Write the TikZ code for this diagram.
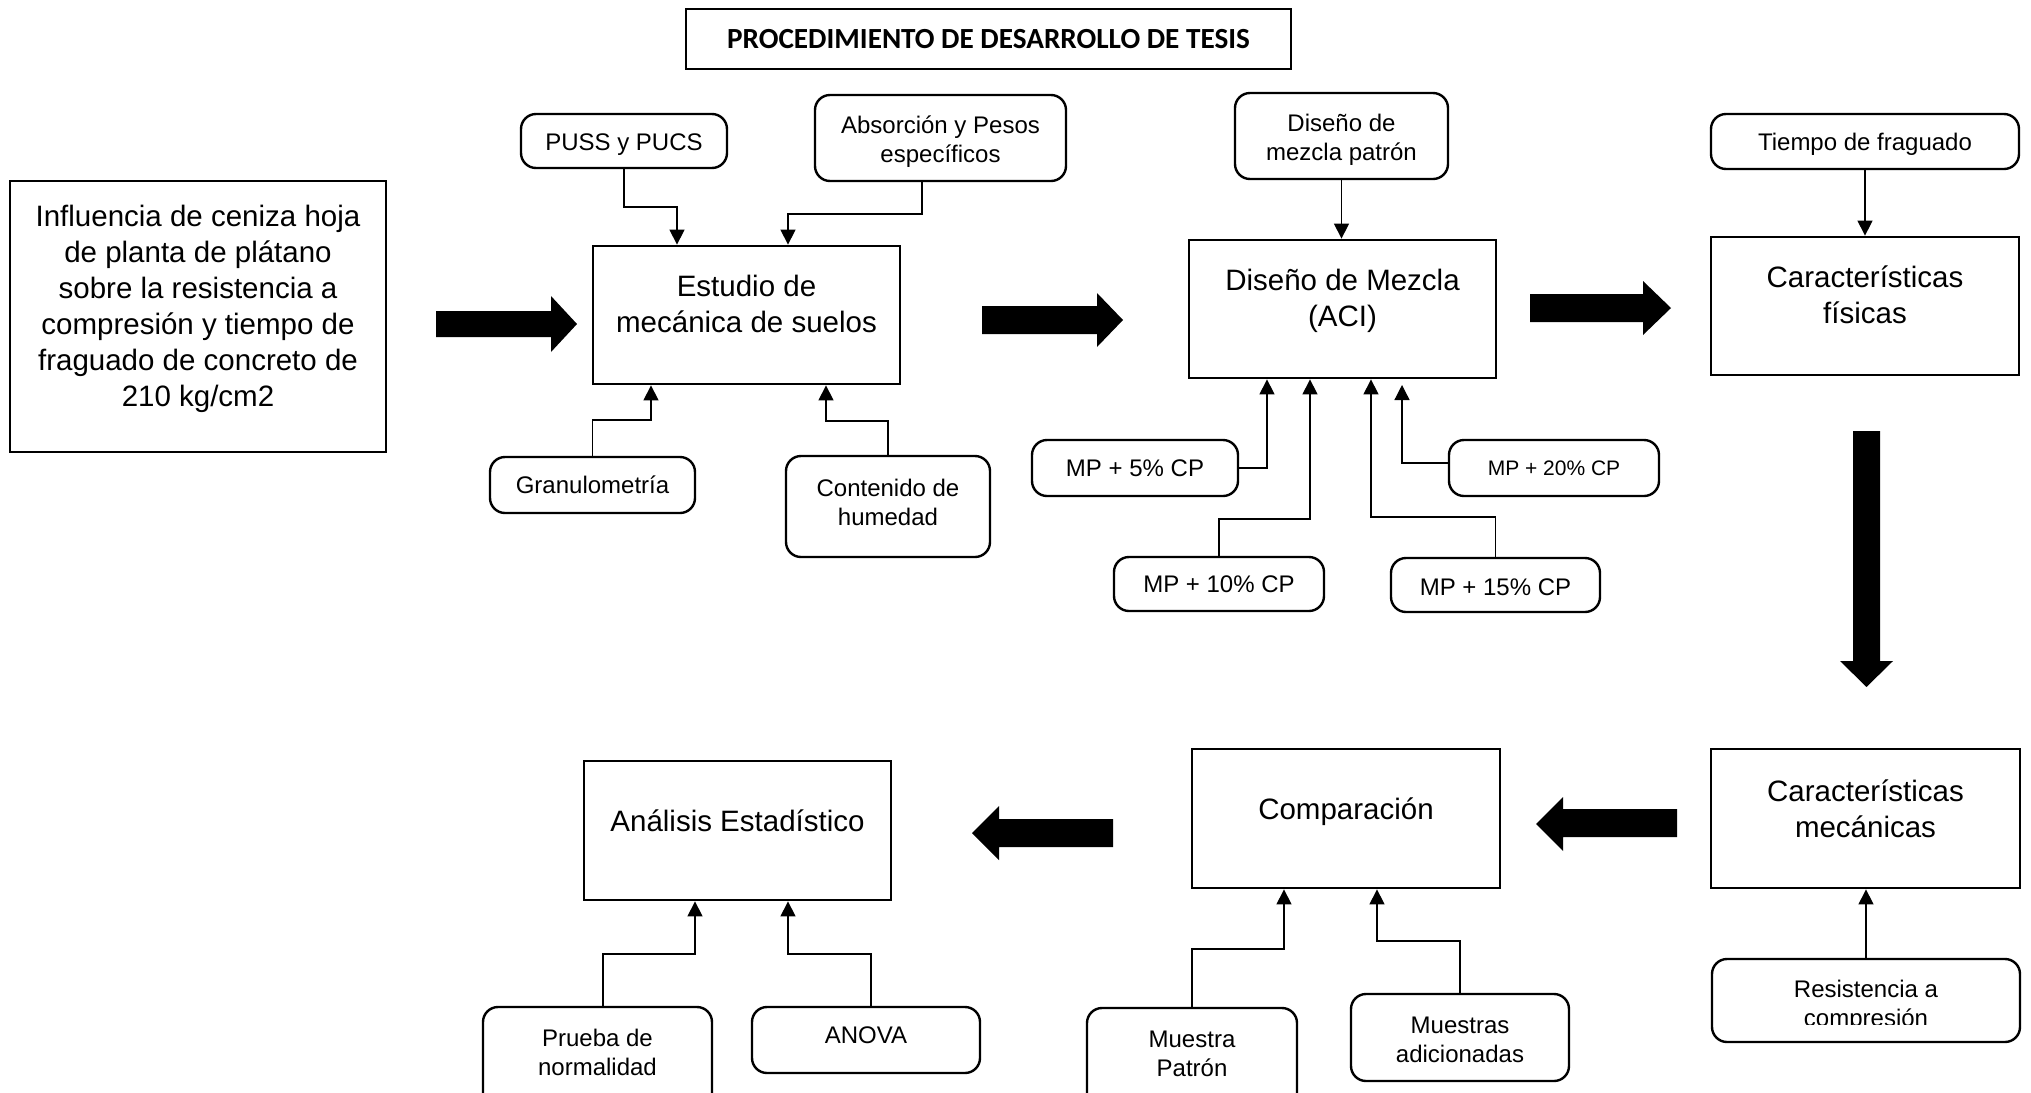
\documentclass[tikz,border=0pt]{standalone}
\usepackage{fontspec}
\setmainfont{Liberation Sans}
\newfontfamily\titlefont{Carlito}
\usetikzlibrary{arrows.meta}
\begin{document}
\begin{tikzpicture}[x=0.5pt,y=-0.5pt,
  bx/.style 2 args={minimum width=#1*0.5pt, minimum height=#2*0.5pt},
  bigbox/.style={draw, line width=1.4pt, inner sep=0pt},
  rbox/.style={draw, line width=1.2pt, rounded corners=7.5pt, inner sep=0pt, align=center, font=\fontsize{12}{14.5}\selectfont},
  bigtxt/.style={align=center, inner sep=0pt, font=\fontsize{14.75}{18}\selectfont},
  smalltxt/.style={align=center, inner sep=0pt, font=\fontsize{12}{14.5}\selectfont},
  conn/.style={line width=0.65pt, -{Triangle[length=7.5pt,width=7.5pt]}},
  fat/.style={fill=black}]
\useasboundingbox (0,0) rectangle (2031,1093);
\clip (0,0) rectangle (2031,1093);

% title
\node[bigbox, line width=1.2pt, bx={605}{60}] (title) at (988.5,39)
  {\titlefont\bfseries\fontsize{14.6}{17}\selectfont PROCEDIMIENTO DE DESARROLLO DE TESIS};

% main boxes
\node[bigbox, bx={376}{271}] (infl) at (198,316.5) {};
\node[bigtxt] (infl-t) at (198,309) {Influencia de ceniza hoja\\de planta de plátano\\sobre la resistencia a\\compresión y tiempo de\\fraguado de concreto de\\210 kg/cm2};

\node[bigbox, bx={307}{138}] (estudio) at (746.5,315) {};
\node[bigtxt] (estudio-t) at (746.5,304) {Estudio de\\mecánica de suelos};

\node[bigbox, bx={307}{138}] (mezcla) at (1342.5,309) {};
\node[bigtxt] (mezcla-t) at (1342.5,301) {Diseño de Mezcla\\(ACI)};

\node[bigbox, bx={308}{138}] (fisicas) at (1865,306) {};
\node[bigtxt] (fisicas-t) at (1865,294.5) {Características\\físicas};

\node[bigbox, bx={309}{139}] (mec) at (1865.5,818.5) {};
\node[bigtxt] (mec-t) at (1865.5,809) {Características\\mecánicas};

\node[bigbox, bx={308}{139}] (comp) at (1346,818.5) {};
\node[bigtxt] (comp-t) at (1346,812) {Comparación};

\node[bigbox, bx={307}{139}] (anal) at (737.5,830.5) {};
\node[bigtxt] (anal-t) at (737.5,821) {Análisis Estadístico};

% small boxes
\node[rbox, bx={206}{54}] (puss) at (624,141) {};
\node[smalltxt] (puss-t) at (624,145) {PUSS y PUCS};
\node[rbox, bx={251}{86}] (absor) at (940.5,138) {};
\node[smalltxt] (absor-t) at (940.5,142) {Absorción y Pesos\\específicos};
\node[rbox, bx={205}{56}] (gran) at (592.5,485) {Granulometría};
\node[rbox, bx={204}{101}] (humed) at (888,506.5) {};
\node[smalltxt] (humed-t) at (888,502.5) {Contenido de\\humedad};
\node[rbox, bx={213}{86}] (patron) at (1341.5,136) {};
\node[smalltxt] (patron-t) at (1341.5,140) {Diseño de\\mezcla patrón};
\node[rbox, bx={308}{55}] (tiempo) at (1865,141.5) {};
\node[smalltxt] (tiempo-t) at (1865,144.5) {Tiempo de fraguado};
\node[rbox, bx={206}{56}] (mp5) at (1135,468) {MP + 5\% CP};
\node[rbox, bx={210}{54}] (mp10) at (1219,584) {MP + 10\% CP};
\node[rbox, bx={209}{54}] (mp15) at (1495.5,585) {};
\node[smalltxt] (mp15-t) at (1495.5,587) {MP + 15\% CP};
\node[rbox, bx={210}{56}, font=\fontsize{10.5}{12.5}\selectfont] (mp20) at (1554,468) {MP + 20\% CP};

\node[rbox, bx={308}{83}] (resist) at (1866,1000.5) {};
\begin{scope}
  \clip (1712,959) rectangle (2020,1024);
  \node[smalltxt] (res-t) at (1866,1006) {Resistencia a\\compresión};
\end{scope}

\node[rbox, bx={210}{107}] (mpat) at (1192,1061.5) {};
\node[smalltxt] (mpat-t) at (1192,1053.5) {Muestra\\Patrón};
\node[rbox, bx={218}{87}] (madic) at (1460,1037.5) {};
\node[smalltxt] (madic-t) at (1460,1040) {Muestras\\adicionadas};
\node[rbox, bx={229}{108}] (prueba) at (597.5,1061) {};
\node[smalltxt] (prueba-t) at (597.5,1052) {Prueba de\\normalidad};
\node[rbox, bx={228}{66}] (anova) at (866,1040) {};
\node[smalltxt] (anova-t) at (866,1035) {ANOVA};

% junction coordinates
\coordinate (j1) at (677,207);
\coordinate (j2s) at (922,0);
\coordinate (j2) at (788,214);
\coordinate (j3) at (651,420);
\coordinate (j4) at (826,421);
\coordinate (j5) at (1267,0);
\coordinate (j6) at (1310,519);
\coordinate (j7) at (1371,517);
\coordinate (e20) at (1402,385);
\coordinate (j8) at (1284,949);
\coordinate (j9) at (1377,941);
\coordinate (jp) at (603,0);
\coordinate (j10) at (695,954);
\coordinate (ja) at (871,0);
\coordinate (j11) at (788,954);

% connectors
\draw[conn] (puss.south) |- (j1) -- (j1 |- estudio.north);
\draw[conn] (absor.south -| j2s) |- (j2) -- (j2 |- estudio.north);
\draw[conn] (gran.north) |- (j3) -- (j3 |- estudio.south);
\draw[conn] (humed.north) |- (j4) -- (j4 |- estudio.south);
\draw[conn] (patron.south) -- (patron.south |- mezcla.north);
\draw[conn] (tiempo.south) -- (tiempo.south |- fisicas.north);
\draw[conn] (mp5.east) -| (j5 |- mezcla.south);
\draw[conn] (mp10.north) |- (j6) -- (j6 |- mezcla.south);
\draw[conn] (mp15.north) |- (j7) -- (j7 |- mezcla.south);
\draw[conn] ([yshift=2.5pt]mp20.west) -| (e20);
\draw[conn] (resist.north) -- (resist.north |- mec.south);
\draw[conn] (mpat.north) |- (j8) -- (j8 |- comp.south);
\draw[conn] (madic.north) |- (j9) -- (j9 |- comp.south);
\draw[conn] (prueba.north -| jp) |- (j10) -- (j10 |- anal.south);
\draw[conn] (anova.north -| ja) |- (j11) -- (j11 |- anal.south);

% fat arrows
\fill[fat] (436,311) -- (551,311) -- (551,296) -- (577,324) -- (551,352) -- (551,337) -- (436,337) -- cycle;
\fill[fat] (982,306) -- (1097,306) -- (1097,293) -- (1123,320) -- (1097,347) -- (1097,334) -- (982,334) -- cycle;
\fill[fat] (1530,294) -- (1643,294) -- (1643,281) -- (1671,308) -- (1643,335) -- (1643,322) -- (1530,322) -- cycle;
\fill[fat] (1853,431) -- (1880,431) -- (1880,661) -- (1893,661) -- (1866.5,687) -- (1840,661) -- (1853,661) -- cycle;
\fill[fat] (1677,809) -- (1563,809) -- (1563,797) -- (1536,824) -- (1563,851) -- (1563,837) -- (1677,837) -- cycle;
\fill[fat] (1113,819) -- (999,819) -- (999,806) -- (972,833) -- (999,860) -- (999,847) -- (1113,847) -- cycle;
\end{tikzpicture}
\end{document}
